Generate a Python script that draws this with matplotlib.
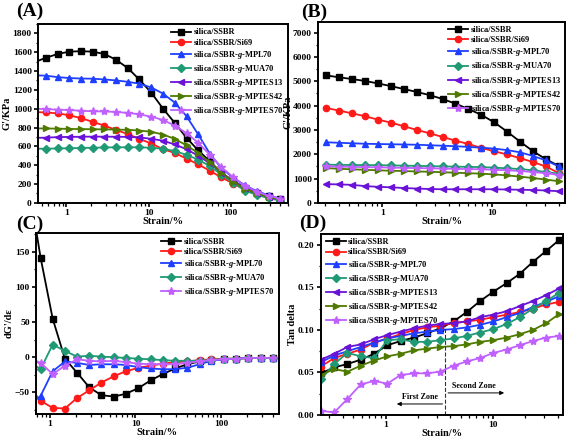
import matplotlib
matplotlib.use("Agg")
import matplotlib.pyplot as plt
from matplotlib.ticker import LogLocator, NullFormatter, MultipleLocator, FuncFormatter

plt.rcParams["font.family"] = ["Liberation Serif", "DejaVu Serif"]
plt.rcParams["font.weight"] = "bold"
plt.rcParams["mathtext.fontset"] = "custom"
plt.rcParams["mathtext.it"] = "Liberation Serif:italic:bold"
plt.rcParams["mathtext.rm"] = "Liberation Serif:bold"

NAMES = ["silica/SSBR", "silica/SSBR/Si69",
         r"silica/SSBR-$\mathit{g}$-MPL70", r"silica/SSBR-$\mathit{g}$-MUA70",
         r"silica/SSBR-$\mathit{g}$-MPTES13", r"silica/SSBR-$\mathit{g}$-MPTES42",
         r"silica/SSBR-$\mathit{g}$-MPTES70"]
COLORS = ["#000000", "#ff1a1a", "#1f3fff", "#1f9a74", "#6a12d8", "#4f7a00", "#c060ff"]
MARKERS = ["s", "o", "^", "D", "<", ">", "*"]

# ---------------------------------------------------------------- panel A/C
strain_ac = [0.40, 0.56, 0.78, 1.08, 1.5, 2.08, 2.9, 4.0, 5.6, 7.7, 10.8, 15,
             20.8, 29, 40, 56, 77, 108, 150, 208, 290, 400]
gA = [
    [1490, 1540, 1580, 1605, 1610, 1605, 1580, 1520, 1430, 1310, 1170, 1000,
     850, 690, 560, 440, 320, 230, 160, 110, 70, 40],
    [965, 960, 950, 930, 900, 860, 820, 775, 730, 680, 630, 570,
     530, 470, 410, 340, 270, 205, 140, 95, 60, 35],
    [1355, 1350, 1335, 1325, 1320, 1318, 1310, 1300, 1285, 1265, 1225, 1160,
     1065, 920, 730, 520, 370, 265, 185, 125, 80, 45],
    [575, 575, 578, 580, 583, 585, 588, 590, 590, 590, 585, 575,
     550, 510, 460, 390, 300, 210, 130, 85, 50, 25],
    [690, 692, 698, 700, 702, 703, 703, 702, 700, 695, 680, 660,
     620, 570, 500, 420, 320, 230, 160, 105, 65, 40],
    [790, 790, 788, 785, 783, 782, 780, 778, 775, 768, 755, 725,
     680, 610, 530, 430, 320, 225, 150, 100, 60, 35],
    [1000, 995, 990, 985, 978, 972, 970, 965, 955, 940, 915, 880,
     820, 740, 640, 510, 380, 270, 180, 120, 75, 45],
]
# dG'/de for SSBR, Si69, MPL70, MUA70, MPTES70
dgC = [
    [250, 142, 55, -2, -22, -43, -54, -56, -52, -44, -33, -24,
     -16, -10, -6, -4, -3, -2, -1, -1, -1],
    [-40, -62, -72, -73, -58, -47, -36, -27, -20, -15, -12, -9,
     -7, -6, -4, -3, -2, -2, -1, -1, -1],
    [-70, -55, -20, -6, -8, -11, -10, -10, -11, -14, -16, -17,
     -17, -15, -10, -5, -3, -2, -1, -1, -1],
    [-5, -17, 18, 9, 1, 2, 1, 0, -1, -2, -3, -4,
     -5, -5, -5, -4, -2, -2, -1, -1, -1],
    [0, -8, -24, -12, -3, -5, -6, -5, -7, -9, -10, -10,
     -10, -8, -6, -4, -3, -2, -1, -1, -1],
]
C_IDX = [0, 1, 2, 3, 6]

# ---------------------------------------------------------------- panel B
strain_b = [0.31, 0.406, 0.532, 0.697, 0.913, 1.196, 1.567, 2.05, 2.69, 3.52,
            4.61, 6.04, 7.92, 10.4, 13.6, 17.8, 23.3, 30.5, 40]
gB = [
    [5240, 5160, 5090, 5010, 4910, 4800, 4680, 4560, 4430, 4270,
     4080, 3860, 3620, 3310, 2930, 2520, 2130, 1800, 1520],
    [3900, 3790, 3680, 3560, 3420, 3300, 3150, 3000, 2860, 2710,
     2560, 2420, 2260, 2120, 1990, 1840, 1680, 1500, 1230],
    [2490, 2470, 2450, 2430, 2420, 2410, 2400, 2390, 2370, 2350,
     2330, 2300, 2270, 2230, 2170, 2080, 1930, 1750, 1500],
    [1570, 1560, 1560, 1550, 1550, 1540, 1530, 1520, 1510, 1500,
     1490, 1480, 1470, 1450, 1420, 1390, 1340, 1270, 1200],
    [770, 760, 740, 690, 660, 640, 610, 590, 570, 560,
     560, 560, 560, 560, 550, 540, 530, 510, 480],
    [1430, 1400, 1380, 1360, 1340, 1320, 1310, 1290, 1280, 1260,
     1240, 1220, 1200, 1170, 1130, 1080, 1020, 960, 890],
    [1500, 1490, 1480, 1470, 1460, 1450, 1440, 1430, 1420, 1410,
     1400, 1390, 1380, 1360, 1340, 1310, 1270, 1220, 1150],
]

# ---------------------------------------------------------------- panel D
strain_d = [0.25, 0.332, 0.442, 0.587, 0.78, 1.04, 1.38, 1.83, 2.43, 3.23,
            4.3, 5.7, 7.6, 10.1, 13.4, 17.8, 23.6, 31.4, 41.7]
tanD = [
    [0.049, 0.056, 0.060, 0.065, 0.072, 0.082, 0.087, 0.091, 0.096, 0.102,
     0.110, 0.121, 0.134, 0.145, 0.155, 0.166, 0.180, 0.193, 0.206],
    [0.057, 0.067, 0.072, 0.077, 0.085, 0.090, 0.095, 0.100, 0.103, 0.105,
     0.108, 0.110, 0.112, 0.115, 0.118, 0.121, 0.125, 0.130, 0.133],
    [0.062, 0.070, 0.075, 0.080, 0.085, 0.090, 0.093, 0.096, 0.098, 0.100,
     0.101, 0.103, 0.106, 0.110, 0.115, 0.120, 0.127, 0.133, 0.140],
    [0.042, 0.060, 0.073, 0.069, 0.067, 0.088, 0.089, 0.086, 0.086, 0.088,
     0.090, 0.093, 0.097, 0.101, 0.107, 0.115, 0.125, 0.134, 0.144],
    [0.065, 0.072, 0.080, 0.083, 0.089, 0.094, 0.098, 0.102, 0.105, 0.107,
     0.108, 0.110, 0.115, 0.118, 0.122, 0.128, 0.134, 0.141, 0.149],
    [0.047, 0.054, 0.051, 0.058, 0.064, 0.069, 0.072, 0.076, 0.078, 0.080,
     0.081, 0.083, 0.086, 0.088, 0.091, 0.095, 0.100, 0.108, 0.119],
    [0.005, 0.003, 0.019, 0.036, 0.040, 0.037, 0.047, 0.049, 0.049, 0.051,
     0.058, 0.063, 0.067, 0.073, 0.077, 0.082, 0.087, 0.091, 0.093],
]
ZONE_X = 3.6

fig = plt.figure(figsize=(5.67, 4.42), dpi=100)
axA = fig.add_axes([0.067, 0.541, 0.441, 0.405])
axB = fig.add_axes([0.561, 0.541, 0.436, 0.410])
axC = fig.add_axes([0.0635, 0.063, 0.428, 0.410])
axD = fig.add_axes([0.566, 0.061, 0.427, 0.410])


def draw(ax, xs, ys, idx):
    for y, i in zip(ys, idx):
        ms = 6 if MARKERS[i] == "*" else 4.5
        ax.plot(xs, y, color=COLORS[i], marker=MARKERS[i], ms=ms, lw=1.3,
                label=NAMES[i])


def style(ax, xlabel, ylabel):
    ax.set_xscale("log")
    ax.xaxis.set_major_locator(LogLocator(base=10))
    ax.xaxis.set_minor_locator(LogLocator(base=10, subs=range(2, 10)))
    ax.xaxis.set_minor_formatter(NullFormatter())
    ax.xaxis.set_major_formatter(FuncFormatter(lambda v, p: f"{v:g}"))
    for s in ax.spines.values():
        s.set_linewidth(1.4)
    ax.tick_params(which="major", labelsize=6.8, width=1.2, length=3, pad=1.5)
    ax.tick_params(which="minor", width=0.9, length=1.8)
    for t in ax.get_xticklabels() + ax.get_yticklabels():
        t.set_fontweight("bold")
    ax.set_xlabel(xlabel, fontsize=7.5, fontweight="bold", labelpad=0)
    ax.set_ylabel(ylabel, fontsize=7.5, fontweight="bold", labelpad=0.5)


def legend(ax, **kw):
    ax.legend(frameon=False, fontsize=6, handlelength=2.4, handletextpad=0.3,
              labelspacing=0.25, borderaxespad=0.15, **kw)


# A
draw(axA, strain_ac, gA, range(7))
style(axA, "Strain/%", "G'/KPa")
axA.set_xlim(0.45, 500)
axA.set_ylim(0, 1900)
axA.yaxis.set_major_locator(MultipleLocator(200))
axA.yaxis.set_minor_locator(MultipleLocator(100))
legend(axA, loc="upper right")

# B
draw(axB, strain_b, gB, range(7))
style(axB, "Strain/%", "G'/KPa")
axB.set_xlim(0.26, 46)
axB.set_ylim(0, 7450)
axB.yaxis.set_major_locator(MultipleLocator(1000))
axB.yaxis.set_minor_locator(MultipleLocator(500))
legend(axB, loc="upper right")

# C
draw(axC, strain_ac[1:], dgC, C_IDX)
style(axC, "Strain/%", "dG'/d\u03b5")
axC.set_xlim(0.69, 470)
axC.set_ylim(-81, 177)
axC.yaxis.set_major_locator(MultipleLocator(50))
axC.yaxis.set_minor_locator(MultipleLocator(25))
legend(axC, loc="upper right")

# D
draw(axD, strain_d, tanD, range(7))
style(axD, "Strain/%", "Tan delta")
axD.set_xlim(0.25, 45)
axD.set_ylim(0, 0.213)
axD.yaxis.set_major_locator(MultipleLocator(0.05))
axD.yaxis.set_minor_locator(MultipleLocator(0.025))
axD.yaxis.set_major_formatter(FuncFormatter(lambda v, p: f"{v:.2f}"))
legend(axD, loc="upper left")
axD.plot([ZONE_X, ZONE_X], [0, 0.106], ls="--", color="#333333", lw=0.8)
axD.annotate("", xy=(1.2, 0.013), xytext=(ZONE_X, 0.013),
             arrowprops=dict(arrowstyle="-|>", color="black", lw=0.7,
                             mutation_scale=6))
axD.annotate("", xy=(13.5, 0.026), xytext=(ZONE_X, 0.026),
             arrowprops=dict(arrowstyle="-|>", color="black", lw=0.7,
                             mutation_scale=6))
axD.text(2.1, 0.016, "First Zone", fontsize=5.8, fontweight="bold",
         ha="center", va="bottom")
axD.text(6.7, 0.029, "Second Zone", fontsize=5.8, fontweight="bold",
         ha="center", va="bottom")

for lbl, x, y in [("(A)", 16, 11), ("(B)", 301, 12), ("(C)", 16, 224), ("(D)", 299, 223)]:
    fig.text(x / 567, 1 - y / 442, lbl, fontsize=14, fontweight="bold",
             ha="left", va="center")

fig.savefig("out.png", dpi=100)
